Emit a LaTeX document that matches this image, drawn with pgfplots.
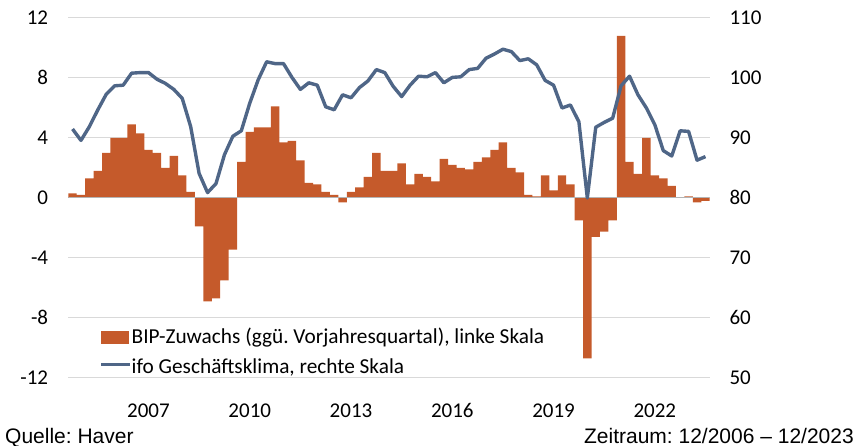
\documentclass[border=0pt]{standalone}
\usepackage{fontspec}
\setmainfont{Carlito}
\newfontfamily\arialf{Liberation Sans}
\usepackage{pgfplots}
\usepackage{pgfplotstable}
\pgfplotsset{compat=1.18}
\definecolor{bipred}{HTML}{C55A2B}
\definecolor{ifoblue}{HTML}{4F6687}
\definecolor{gridgray}{HTML}{D9D9D9}
\definecolor{zerogray}{HTML}{B4B4B4}

% quarterly, 2005Q1 (q=0) .. 2023Q4 (q=75)
\pgfplotstableread{
q bip ifo
0 0.3 91.5
1 0.2 89.6
2 1.3 91.9
3 1.8 94.7
4 3.0 97.3
5 4.0 98.7
6 4.0 98.8
7 4.9 100.8
8 4.3 100.9
9 3.2 100.9
10 3.0 99.8
11 2.0 99.1
12 2.8 98.1
13 1.5 96.6
14 0.4 91.9
15 -1.9 84.1
16 -6.9 80.9
17 -6.7 82.4
18 -5.5 87.2
19 -3.45 90.3
20 2.4 91.2
21 4.4 95.8
22 4.7 99.7
23 4.7 102.7
24 6.1 102.4
25 3.7 102.4
26 3.8 100.1
27 2.5 98.1
28 1.0 99.2
29 0.9 98.8
30 0.4 95.2
31 0.2 94.7
32 -0.3 97.2
33 0.4 96.7
34 0.7 98.4
35 1.4 99.5
36 3.0 101.4
37 1.8 100.9
38 1.8 98.6
39 2.3 96.9
40 0.9 98.8
41 1.6 100.3
42 1.4 100.2
43 1.1 100.9
44 2.6 99.2
45 2.2 100.1
46 2.0 100.2
47 1.9 101.4
48 2.4 101.6
49 2.7 103.3
50 3.2 104.0
51 3.7 104.8
52 2.0 104.4
53 1.7 102.9
54 0.2 103.2
55 0.1 102.2
56 1.5 99.6
57 0.5 98.8
58 1.5 95.0
59 0.9 95.5
60 -1.5 92.7
61 -10.7 80.0
62 -2.6 91.8
63 -2.25 92.6
64 -1.5 93.3
65 10.8 98.7
66 2.4 100.3
67 1.6 97.2
68 4.0 95.0
69 1.5 92.2
70 1.3 87.9
71 0.8 87.0
72 0.0 91.2
73 0.1 91.1
74 -0.3 86.3
75 -0.2 86.9
}\data

\pgfplotsset{
  base/.style={
    at={(68.3pt,68pt)}, anchor=south west,
    scale only axis, width=641.4pt, height=360pt,
    xmin=-0.5, xmax=75.5,
    axis line style={draw=none},
    tick style={draw=none},
    /pgf/number format/assume math mode=true,
    ticklabel style={font=\fontsize{21}{25}\selectfont, inner sep=0pt},
  }
}

\begin{document}
\frenchspacing
\begin{tikzpicture}[x=1pt,y=1pt]
\useasboundingbox (0,0) rectangle (856,446);

\begin{axis}[base,
  ymin=-12, ymax=12, ytick={-12,-8,...,12},
  ymajorgrids, grid style={gridgray, line width=1pt},
  xtick={9,21,33,45,57,69},
  xticklabels={2007,2010,2013,2016,2019,2022},
  xticklabel style={anchor=base, yshift=-35pt},
  yticklabel style={anchor=base east, xshift=-20pt, yshift=-6.7pt},
  ybar, bar width=1, bar shift=0pt,
]
\addplot[fill=bipred, draw=none] table[x=q, y=bip] {\data};
\addplot[sharp plot, zerogray, line width=1pt] coordinates {(-0.5,0) (75.5,0)};
\end{axis}

\begin{axis}[base,
  ymin=50, ymax=110, ytick={50,60,...,110},
  xtick=\empty, yticklabel pos=right,
  yticklabel style={anchor=base west, xshift=19.6pt, yshift=-6.7pt},
  legend cell align=left,
  legend style={at={(0.049,0.139)}, anchor=north west, draw=none, fill=none,
    inner sep=0pt, row sep=9pt,
    font=\fontsize{21.3}{25}\selectfont,
    nodes={inner sep=0.5pt, text height=15pt, text depth=5pt}},
]
\addlegendimage{legend image code/.code={\fill[bipred] (0pt,-4.45pt) rectangle (26.7pt,7.25pt);}}
\addlegendentry{BIP-Zuwachs (ggü. Vorjahresquartal), linke Skala}
\addplot[ifoblue, line width=3.4pt, line join=round,
  legend image code/.code={\draw[ifoblue, line width=3pt] (0pt,3.9pt) -- (28.3pt,3.9pt);}]
  table[x=q, y=ifo] {\data};
\addlegendentry{ifo Geschäftsklima, rechte Skala}
\end{axis}

\node[anchor=base west, inner sep=0pt, font=\arialf\fontsize{21}{25}\selectfont] at (5,2.7) {Quelle: Haver};
\node[anchor=base east, inner sep=0pt, font=\arialf\fontsize{21}{25}\selectfont] at (854,2.7) {Zeitraum: 12/2006 – 12/2023};
\end{tikzpicture}
\end{document}
